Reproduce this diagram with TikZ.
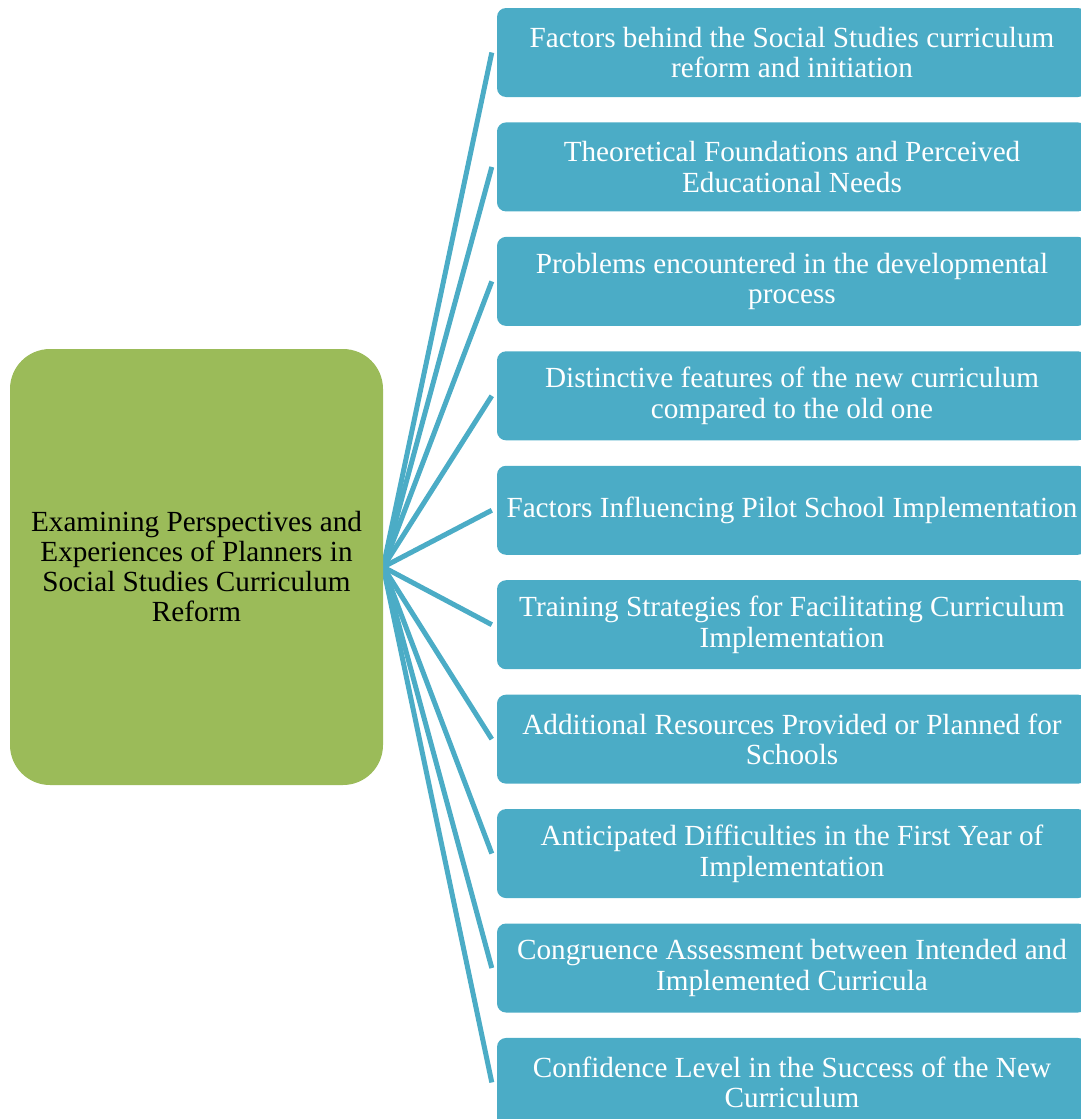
\documentclass[tikz,border=0pt]{standalone}
\usepackage{fontspec}
\setmainfont{Liberation Serif}
\usetikzlibrary{backgrounds}
\definecolor{topicgreen}{HTML}{9BBB59}
\definecolor{itemblue}{HTML}{4BACC6}
\begin{document}
\begin{tikzpicture}[x=1pt,y=-1pt,
  topic/.style={fill=topicgreen, rounded corners=40pt, minimum width=373pt,
    minimum height=436pt, inner sep=0pt, align=center, text=black,
    font=\fontsize{29.2}{30}\selectfont},
  itembox/.style={fill=itemblue, rounded corners=9pt, minimum width=590pt,
    minimum height=89pt, inner sep=0pt, align=center, text=white,
    font=\fontsize{29.2}{30.5}\selectfont},
  link/.style={draw=itemblue, line width=5pt}]
\useasboundingbox (0,0) rectangle (1081,1119);
\clip (0,0) rectangle (1081,1119);

\node[topic] (topic) at (196.5,567)
  {Examining Perspectives and\\Experiences of Planners in\\Social Studies Curriculum\\Reform};

\foreach \i/\t in {
  1/{Factors behind the Social Studies curriculum\\reform and initiation},
  2/{Theoretical Foundations and Perceived\\Educational Needs},
  3/{Problems encountered in the developmental\\process},
  4/{Distinctive features of the new curriculum\\compared to the old one},
  5/{Factors Influencing Pilot School Implementation},
  6/{Training Strategies for Facilitating Curriculum\\Implementation},
  7/{Additional Resources Provided or Planned for\\Schools},
  8/{Anticipated Difficulties in the First Year of\\Implementation},
  9/{Congruence Assessment between Intended and\\Implemented Curricula},
  10/{Confidence Level in the Success of the New\\Curriculum}} {
  \node[itembox] (b\i) at (792, {52.5 + 114.44*(\i-1)}) {\t};
  \coordinate (e\i) at ([xshift=-5pt]b\i.west);
  \begin{scope}[on background layer]
    \draw[link] (topic.east) -- (e\i);
  \end{scope}
}
\end{tikzpicture}
\end{document}
